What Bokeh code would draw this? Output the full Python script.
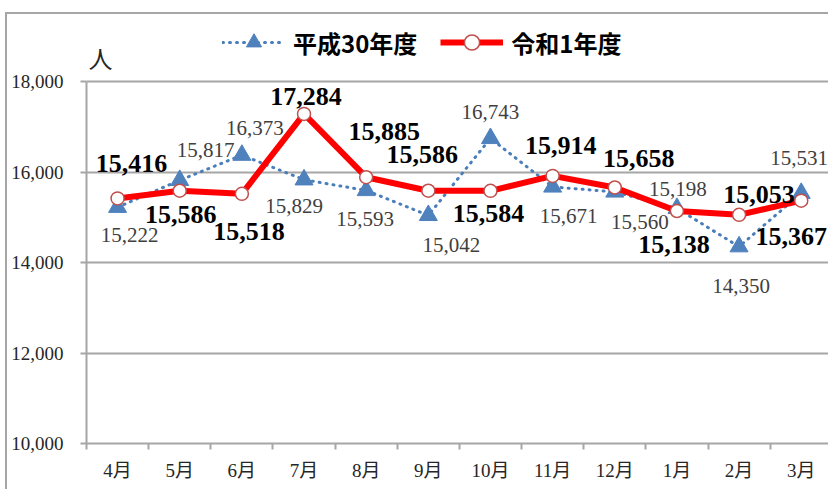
from bokeh.plotting import figure
from bokeh.models import (Range1d, FixedTicker, NumeralTickFormatter, Legend,
                          LegendItem, Label, ColumnDataSource)
from bokeh.core.properties import value
from bokeh.embed import file_html
from bokeh.resources import INLINE

# ---- data ----
months = ["4月", "5月", "6月", "7月", "8月", "9月", "10月", "11月", "12月", "1月", "2月", "3月"]
h30 = [15222, 15817, 16373, 15829, 15593, 15042, 16743, 15671, 15560, 15198, 14350, 15531]
r1 = [15416, 15586, 15518, 17284, 15885, 15586, 15584, 15914, 15658, 15138, 15053, 15367]
y_ticks = [10000, 12000, 14000, 16000, 18000]
series_names = ["平成30年度", "令和1年度"]
unit_label = "人"

# ---- label placement (style, px) ----
h30_dx = [12, 26, 13, -10, -1, 23, 0, 16, 25, 1, 2, -2]
h30_dy = [28, -30, -27, 26, 29, 30, -26, 29, 30, -19, 39, -35]
r1_dx = [14, 1, 7, 2, 18, -6, -2, 8, 24, -3, 20, -10]
r1_dy = [-35, 24, 38, -17, -46, -36, 23, -30, -29, 33, -20, 36]

xs = [i + 0.5 for i in range(len(months))]

src_h = ColumnDataSource(dict(x=xs, y=h30, t=[f"{v:,}" for v in h30], dx=h30_dx, dy=h30_dy))
src_r = ColumnDataSource(dict(x=xs, y=r1, t=[f"{v:,}" for v in r1], dx=r1_dx, dy=r1_dy))

GRAY = "#a6a6a6"
SERIF = "Liberation Serif, Noto Sans CJK JP"

# canvas at page (7,14); frame left 86, top 14, bottom 443, right 830
p = figure(width=823, height=477, output_backend="svg", toolbar_location=None,
           x_range=Range1d(0, 744 / 62.15), y_range=Range1d(10000, 10000 + 429 / 0.04525),
           min_border_left=79, min_border_right=0, min_border_top=0, min_border_bottom=48)
p.styles = {"border-top": f"2px solid {GRAY}", "border-left": f"2px solid {GRAY}",
            "margin-top": "12px", "margin-left": "5px"}
p.outline_line_color = None
p.background_fill_color = "white"
p.border_fill_color = "white"

# axes
xa = p.xaxis[0]
xa.ticker = FixedTicker(ticks=xs, minor_ticks=list(range(len(months) + 1)))
xa.major_label_overrides = {x: m for x, m in zip(xs, months)}
xa.major_tick_out = 0
xa.major_tick_in = 0
xa.minor_tick_out = 6
xa.minor_tick_in = 0
xa.minor_tick_line_color = GRAY
xa.minor_tick_line_width = 2
xa.axis_line_color = GRAY
xa.axis_line_width = 2
xa.major_label_text_font = SERIF
xa.major_label_text_font_size = "19px"
xa.major_label_text_color = "#262626"
xa.major_label_standoff = 10

ya = p.yaxis[0]
ya.bounds = (y_ticks[0], y_ticks[-1])
ya.ticker = FixedTicker(ticks=y_ticks)
ya.formatter = NumeralTickFormatter(format="0,0")
ya.major_tick_out = 6
ya.major_tick_in = 0
ya.minor_tick_out = 0
ya.minor_tick_in = 0
ya.major_tick_line_color = GRAY
ya.major_tick_line_width = 2
ya.axis_line_color = GRAY
ya.axis_line_width = 2
ya.major_label_text_font = SERIF
ya.major_label_text_font_size = "19px"
ya.major_label_text_color = "#262626"
ya.major_label_standoff = 17

p.xgrid.grid_line_color = None
p.ygrid.ticker = FixedTicker(ticks=y_ticks)
p.ygrid.grid_line_color = GRAY
p.ygrid.grid_line_width = 2

# series
l1 = p.line("x", "y", source=src_h, line_color="#4a7ebb", line_width=3,
            line_dash="1 6", line_cap="round")
m1 = p.scatter("x", "y", source=src_h, marker="triangle", size=18,
               fill_color="#4f81bd", line_color="#4f81bd")
l2 = p.line("x", "y", source=src_r, line_color="#ff0000", line_width=6, line_join="round")
m2 = p.scatter("x", "y", source=src_r, marker="circle", size=13,
               fill_color="white", line_color="#c0504d", line_width=1.5)

p.text("x", "y", text="t", source=src_h, x_offset="dx", y_offset="dy",
       text_font=value("Liberation Serif"), text_font_size="21px",
       text_color="#404040", text_align="center", text_baseline="middle")
p.text("x", "y", text="t", source=src_r, x_offset="dx", y_offset="dy",
       text_font=value("Liberation Serif"), text_font_size="26px", text_font_style="bold",
       text_color="black", text_align="center", text_baseline="middle")

legend = Legend(items=[LegendItem(label=series_names[0], renderers=[l1, m1]),
                       LegendItem(label=series_names[1], renderers=[l2, m2])],
                orientation="horizontal", location=(136, 382),
                glyph_width=63, glyph_height=38, label_standoff=8, spacing=23,
                padding=0, margin=0, border_line_color=None, background_fill_alpha=0,
                label_text_font="Noto Sans CJK JP", label_text_font_size="24px",
                label_text_font_style="bold", label_text_color="black")
p.add_layout(legend)

p.add_layout(Label(x=0, y=y_ticks[-1], x_offset=14, y_offset=24, text=unit_label,
                   text_font="Noto Sans CJK JP", text_font_size="24px",
                   text_color="#262626", text_align="center", text_baseline="middle"))

open("out.html", "w").write(file_html(p, INLINE))
